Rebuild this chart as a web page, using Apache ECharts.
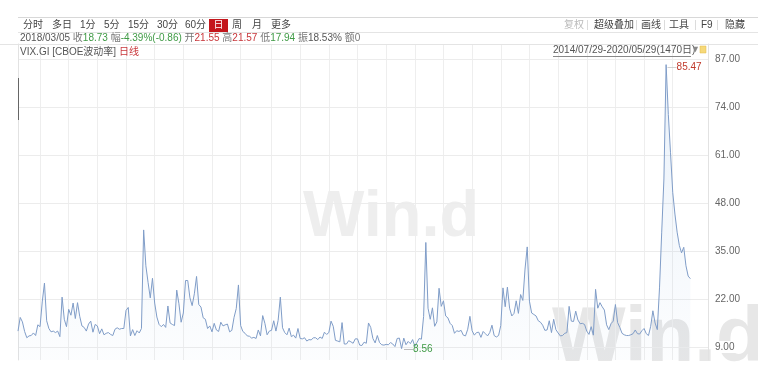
<!DOCTYPE html>
<html><head><meta charset="utf-8">
<script src="https://cdn.jsdelivr.net/npm/echarts@6/dist/echarts.min.js"></script>
<style>html,body{margin:0;padding:0;background:#fff}#c{width:758px;height:378px}</style>
</head><body><div id="c"></div>
<script>
// Weekly VIX readings, 2014/07/29 - 2020/05/29
const vix2014 = [13.3, 17.0, 15.8, 13.2, 11.5, 12.0, 12.1, 12.8, 12.1, 15.0, 14.5, 21.2, 26.3, 16.1, 14.0, 13.1, 13.3, 12.9, 13.3, 11.8, 22.5, 16.5, 14.5, 19.2];
const vix2015 = [17.6, 20.9, 16.7, 21.0, 17.3, 14.7, 14.3, 13.3, 15.2, 16.0, 13.0, 15.1, 14.7, 12.6, 13.9, 12.3, 12.7, 12.9, 12.4, 12.1, 13.8, 14.2, 13.8, 14.0, 14.0, 18.9, 19.7, 12.0, 13.7, 12.1, 13.4, 12.8, 14.0, 40.7, 31.0, 26.5, 22.3, 27.6, 20.9, 17.1, 15.1, 14.5, 15.1, 14.3, 20.1, 15.5, 15.1, 14.8, 24.4, 20.7, 15.7, 18.2];
const vix2016 = [27.0, 27.0, 22.3, 20.2, 23.4, 28.1, 20.5, 19.8, 16.9, 16.5, 14.0, 14.7, 13.1, 15.4, 13.6, 13.2, 15.7, 14.7, 15.0, 15.2, 13.1, 13.5, 17.0, 19.4, 25.8, 14.8, 13.2, 12.7, 12.0, 11.9, 11.4, 11.6, 11.3, 13.6, 12.0, 17.5, 15.4, 12.3, 13.3, 13.5, 16.1, 13.3, 16.2, 22.5, 14.2, 12.9, 12.3, 14.1, 11.8, 12.2, 11.4, 14.0];
const vix2017 = [11.3, 11.2, 11.5, 10.6, 11.0, 10.9, 11.5, 11.5, 11.0, 11.7, 11.3, 13.0, 12.4, 12.9, 16.0, 14.6, 10.8, 10.6, 10.4, 15.6, 9.8, 9.8, 10.7, 10.4, 10.0, 11.2, 11.2, 9.5, 9.4, 10.3, 10.0, 15.5, 14.3, 11.3, 10.1, 12.1, 10.2, 9.6, 9.5, 9.7, 9.6, 10.2, 9.8, 9.1, 11.3, 11.4, 8.56, 11.4, 9.6, 10.5, 9.9, 11.0];
const vix2018 = [9.2, 10.2, 11.3, 11.1, 17.3, 37.3, 19.5, 16.5, 19.6, 14.6, 15.8, 24.9, 20.0, 21.5, 17.4, 16.9, 15.4, 14.8, 12.7, 13.4, 13.2, 13.5, 12.2, 12.0, 13.8, 17.3, 13.4, 12.2, 12.9, 13.0, 11.6, 13.2, 12.6, 12.0, 12.9, 14.9, 12.1, 11.7, 12.1, 14.8, 25.0, 19.9, 25.2, 19.5, 17.4, 18.1, 21.5, 18.1, 23.2, 21.6, 30.1, 36.1];
const vix2019 = [21.4, 18.2, 17.8, 17.4, 16.1, 15.7, 14.9, 13.5, 13.6, 16.1, 12.9, 16.5, 13.7, 12.8, 12.0, 12.1, 12.7, 12.9, 20.0, 16.0, 15.9, 18.7, 16.3, 15.3, 15.4, 15.1, 13.3, 12.4, 14.5, 12.2, 24.6, 19.5, 21.0, 19.9, 19.0, 15.0, 13.7, 15.3, 16.0, 20.5, 15.6, 14.3, 12.7, 12.3, 12.1, 12.1, 12.3, 12.6, 13.6, 12.6, 12.5, 13.4];
const vix2020 = [14.0, 12.6, 12.1, 14.6, 18.8, 15.5, 13.7, 25.0, 40.1, 54.5, 85.47, 72.0, 61.6, 50.9, 45.0, 40.1, 36.5, 34.5, 36.0, 31.0, 28.2, 27.5];
const yTicks = [9, 22, 35, 48, 61, 74, 87];
const startDate = '2014/07/29';
const rangeText = '2014/07/29-2020/05/29(1470日)';

const values = [].concat(vix2014, vix2015, vix2016, vix2017, vix2018, vix2019, vix2020);
function fmt(d){return d.getFullYear()+'/'+String(d.getMonth()+1).padStart(2,'0')+'/'+String(d.getDate()).padStart(2,'0');}
const cats = [startDate];
let d = new Date(2014, 7, 1);
for (let i = 1; i < values.length; i++) { cats.push(fmt(d)); d.setDate(d.getDate() + 7); }
const PAD = 8;
for (let i = 0; i < PAD; i++) cats.push('');
const quarterIdx = new Set();
for (let i = 1; i < values.length; i++) {
  const m0 = +cats[i-1].slice(5,7), m1 = +cats[i].slice(5,7);
  if (m1 !== m0 && (m1 - 1) % 3 === 0) quarterIdx.add(i);
}

const FF = '"Liberation Sans","Noto Sans CJK SC",sans-serif';
function T(text, x, y, fill, size, extra){
  return Object.assign({type:'text', x:x, y:y, z:10, style:{text:text, fill:fill||'#444', font:(size||10)+'px '+FF, verticalAlign:'middle'}}, extra||{});
}
function R(text, x, y, rich){
  return {type:'text', x:x, y:y, z:10, style:{text:text, font:'10px '+FF, fill:'#555', verticalAlign:'middle', rich:rich}};
}
function L(x1,y1,x2,y2,c){return {type:'line', z:10, shape:{x1:x1,y1:y1,x2:x2,y2:y2}, style:{stroke:c||'#dcdcdc', lineWidth:1}};}

const green = '#3f9a45', red = '#c8363a', grey = '#777';
const rs = function(c){return {fill:c, font:'10px '+FF};};
const richInfo = {d:rs('#555'), g:rs(grey), n:rs(green), r:rs(red)};
const graphics = [
  // watermarks
  {type:'text', x:303, y:186, z:0, style:{text:'Win.d', fill:'#eeeeee', font:'bold 65px "Liberation Sans",sans-serif'}},
  {type:'text', x:552, y:300, z:0, style:{text:'Win.d', fill:'#e7e7e7', font:'bold 78px "Liberation Sans",sans-serif'}},
  // frame lines
  L(18,17.5,758,17.5,'#d8d8d8'), L(18,32.5,758,32.5,'#e4e4e4'), L(0,44.5,758,44.5,'#e4e4e4'),
  L(18.5,78,18.5,120,'#666'),
  // toolbar
  T('分时',23,25), T('多日',52,25), T('1分',80,25), T('5分',104,25), T('15分',128,25), T('30分',157,25), T('60分',185,25),
  {type:'rect', z:10, shape:{x:209,y:19,width:19,height:13}, style:{fill:'#c4161c'}},
  T('日',213.5,25.5,'#fff'), T('周',232,25), T('月',252,25), T('更多',271,25),
  T('复权',564,25,'#bbb'), L(587.5,20,587.5,30), T('超级叠加',594,25), L(636.5,20,636.5,30),
  T('画线',641,25), L(664.5,20,664.5,30), T('工具',669,25), L(695.5,20,695.5,30),
  T('F9',701,25), L(717.5,20,717.5,30), T('隐藏',725,25),
  // info row
  R('{d|2018/03/05} {g|收}{n|18.73} {g|幅}{n|-4.39%(-0.86)} {g|开}{r|21.55} {g|高}{r|21.57} {g|低}{n|17.94} {g|振}{d|18.53%} {g|额0}', 20, 38, richInfo),
  // series row
  R('{d|VIX.GI [CBOE波动率]} {r|日线}', 20, 52, richInfo),
  T(rangeText,553,50,'#555'), L(553,56.5,691,56.5,'#888'),
  T('▼',691,50,'#888',9),
  {type:'rect', z:10, shape:{x:700,y:46,width:6,height:7}, style:{fill:'#f6d97a', stroke:'#e3b94a', lineWidth:0.5}}
];

const chart = echarts.init(document.getElementById('c'));
chart.setOption({
  animation:false,
  backgroundColor:'#fff',
  grid:{left:18, right:50, top:44, bottom:18},
  xAxis:{type:'category', data:cats, boundaryGap:false,
    axisLine:{show:false}, axisTick:{show:false}, axisLabel:{show:false},
    splitLine:{show:true, interval:function(i){return quarterIdx.has(i);}, lineStyle:{color:'#eeeeee', width:1}}},
  yAxis:[
    {type:'value', position:'right', min:5.47, max:91.06, z:3,
     axisLine:{show:true, lineStyle:{color:'#e2e2e2'}},
     axisTick:{show:false, customValues:yTicks},
     axisLabel:{customValues:yTicks, formatter:function(v){return v.toFixed(2);}, color:'#666', fontSize:10, margin:5, padding:[1,2], backgroundColor:'#fff', fontFamily:'"Liberation Sans",sans-serif'},
     splitLine:{show:true, lineStyle:{color:'#ececec', width:1}}},
    {type:'value', position:'left', min:5.47, max:91.06, z:3,
     axisLine:{show:true, lineStyle:{color:'#e2e2e2'}}, axisTick:{show:false}, axisLabel:{show:false}, splitLine:{show:false}}
  ],
  series:[{
    type:'line', data:values, symbol:'none', z:4,
    lineStyle:{color:'#809dc8', width:1},
    areaStyle:{color:new echarts.graphic.LinearGradient(0,0,0,1,[{offset:0,color:'rgba(140,180,225,0.26)'},{offset:1,color:'rgba(140,180,225,0.04)'}])},
    markPoint:{
      symbol:'circle', symbolSize:1, itemStyle:{color:'rgba(0,0,0,0)'},
      data:[
        {type:'max', label:{show:true, position:'right', distance:1, offset:[0,3],
          formatter:function(p){return '{l|—}{v|'+p.value+'}';},
          rich:{l:{color:'#bbb', fontSize:9}, v:{color:'#c0392b', fontSize:10, fontFamily:'"Liberation Sans",sans-serif'}}}},
        {type:'min', label:{show:true, position:'right', distance:2, offset:[0,1],
          formatter:function(p){return '{l|—}{v|'+p.value+'}';},
          rich:{l:{color:'#999', fontSize:9}, v:{color:'#3f9a45', fontSize:10, fontFamily:'"Liberation Sans",sans-serif'}}}}
      ]
    }
  }],
  graphic:graphics
});
</script></body></html>
